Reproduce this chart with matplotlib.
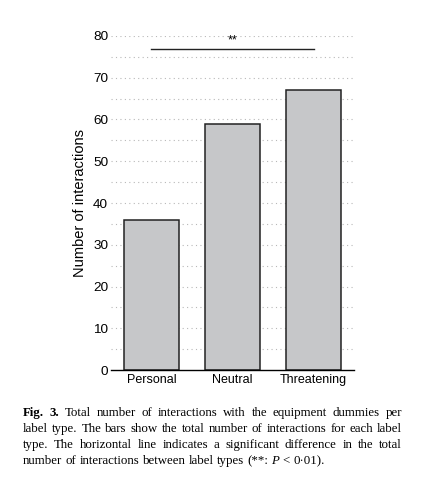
import matplotlib
matplotlib.use('Agg')
import numpy as np
import matplotlib.pyplot as plt

# data
categories = ['Personal', 'Neutral', 'Threatening']
counts = [36, 59, 67]
sig_pair = ('Personal', 'Threatening')
sig_height = 77
sig_label = '**'
yticks = [0, 10, 20, 30, 40, 50, 60, 70, 80]

# caption lines, words tagged with a style; the last line is not justified
caption_lines = [
    [('Fig.', 'bold'), ('3.', 'bold'), ('Total', 'normal'), ('number', 'normal'), ('of', 'normal'),
     ('interactions', 'normal'), ('with', 'normal'), ('the', 'normal'), ('equipment', 'normal'),
     ('dummies', 'normal'), ('per', 'normal')],
    [(w, 'normal') for w in 'label type. The bars show the total number of interactions for each label'.split()],
    [(w, 'normal') for w in 'type. The horizontal line indicates a significant difference in the total'.split()],
    [(w, 'normal') for w in 'number of interactions between label types (**:'.split()]
    + [('P', 'italic'), ('<', 'normal'), ('0·01).', 'normal')],
]

plt.rcParams['font.family'] = ['Liberation Sans', 'DejaVu Sans']

fig = plt.figure(figsize=(4.35, 4.91), dpi=100)
ax = fig.add_axes([0.255, 0.2464, 0.559, 0.6803])

x = np.arange(len(categories))
ax.bar(x, counts, width=0.68, color='#c6c7c9', edgecolor='#222222', linewidth=1.1, zorder=3)

# dotted grid every 5
for v in np.arange(5, 85, 5):
    ax.axhline(v, color='#b8b8b8', linestyle=(0, (1, 3)), linewidth=0.8, zorder=1)

ax.set_xlim(-0.5, len(categories) - 0.5)
ax.set_ylim(0, 80)
ax.set_yticks(yticks)
ax.set_xticks(x)
ax.set_xticklabels(categories, fontsize=9)
ax.tick_params(axis='y', length=0, labelsize=9.7, pad=2)
ax.tick_params(axis='x', length=0, pad=3)
for s in ['top', 'right', 'left']:
    ax.spines[s].set_visible(False)
ax.spines['bottom'].set_linewidth(1.0)
ax.spines['bottom'].set_zorder(4)
ax.set_ylabel('Number of interactions', fontsize=10.5, labelpad=4)

# significance bar
i0 = categories.index(sig_pair[0])
i1 = categories.index(sig_pair[1])
ax.plot([x[i0], x[i1]], [sig_height, sig_height], color='#222222', linewidth=1.0, clip_on=False)
ax.text((x[i0] + x[i1]) / 2, sig_height + 0.5, sig_label, ha='center', va='bottom',
        fontsize=9)

# caption, justified by hand
fig.canvas.draw()
renderer = fig.canvas.get_renderer()
W, H = fig.bbox.width, fig.bbox.height
left_px, right_px = 23, 402
base0 = 416
line_gap = 16
cap_size = 9.3


def word_kw(style):
    kw = dict(fontsize=cap_size, family='Liberation Serif', va='baseline')
    if style == 'bold':
        kw['fontweight'] = 'bold'
    elif style == 'italic':
        kw['fontstyle'] = 'italic'
    return kw


space_px = fig.text(0, 0, 'a b', **word_kw('normal')).get_window_extent(renderer).width - \
    fig.text(0, 0, 'ab', **word_kw('normal')).get_window_extent(renderer).width
for t in list(fig.texts):
    t.remove()

for k, words in enumerate(caption_lines):
    yy = 1 - (base0 + k * line_gap) / H
    objs = []
    widths = []
    for w, style in words:
        t = fig.text(0, yy, w, **word_kw(style))
        objs.append(t)
        widths.append(t.get_window_extent(renderer).width)
    if k < len(caption_lines) - 1:
        gap = (right_px - left_px - sum(widths)) / (len(words) - 1)
    else:
        gap = space_px
    xp = left_px
    for t, wd in zip(objs, widths):
        t.set_x(xp / W)
        xp += wd + gap

fig.savefig('out.png', dpi=100)
